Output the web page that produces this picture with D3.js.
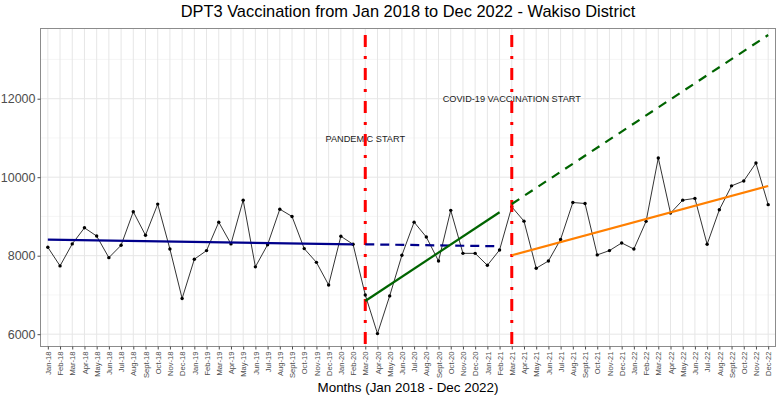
<!DOCTYPE html>
<html>
<head>
<meta charset="utf-8">
<script src="https://cdn.jsdelivr.net/npm/d3@7"></script>
<style>
  body { margin: 0; background: #fff; }
  svg { display: block; font-family: "Liberation Sans", Arial, sans-serif; }
</style>
</head>
<body>
<div id="chart"></div>
<script>
// month labels, Jan 2018 - Dec 2022
const monthNames = ["Jan", "Feb", "Mar", "Apr", "May", "Jun", "Jul", "Aug", "Sept", "Oct", "Nov", "Dec"];
const years = ["18", "19", "20", "21", "22"];
const months = [];
years.forEach(y => monthNames.forEach(m => months.push(m + "-" + y)));

// DPT3 doses per month
const doses2018 = [8215, 7740, 8300, 8710, 8500, 7950, 8265, 9120, 8520, 9315, 8170, 6910];
const doses2019 = [7910, 8130, 8855, 8300, 9415, 7715, 8280, 9185, 9000, 8180, 7830, 7255];
const doses2020 = [8495, 8290, 7000, 6015, 6975, 8010, 8855, 8475, 7865, 9155, 8060, 8060];
const doses2021 = [7755, 8145, 9245, 8880, 7680, 7865, 8415, 9355, 9330, 8020, 8130, 8325];
const doses2022 = [8170, 8875, 10490, 9085, 9415, 9460, 8290, 9170, 9780, 9905, 10360, 9300];
const doses = [].concat(doses2018, doses2019, doses2020, doses2021, doses2022);

// fitted trend segments: [start month, end month, start value, end value]
const prePandemicFit = ["Jan-18", "Feb-20", 8408, 8290];
const prePandemicProjected = ["Mar-20", "Feb-21", 8290, 8240];
const pandemicFit = ["Mar-20", "Feb-21", 6846, 9106];
const pandemicProjected = ["Mar-21", "Dec-22", 9317, 13623];
const vaccinationFit = ["Mar-21", "Dec-22", 8010, 9776];

const eventMonths = ["Mar-20", "Mar-21"];
const eventLabels = [
  { month: "Mar-20", value: 10900, text: "PANDEMIC START" },
  { month: "Mar-21", value: 11905, text: "COVID-19 VACCINATION START" },
];

const yTicks = [6000, 8000, 10000, 12000];
const yMinor = [7000, 9000, 11000, 13000];

const width = 779, height = 398;
const margin = { top: 28.5, right: 3.5, bottom: 51.5, left: 40.5 };

const svg = d3.select("#chart").append("svg")
  .attr("width", width)
  .attr("height", height);

const x = d3.scalePoint()
  .domain(months)
  .range([margin.left, width - margin.right])
  .padding(0.6);

const y = d3.scaleLinear()
  .domain([5686, 13789])
  .range([height - margin.bottom, margin.top]);

const x0 = margin.left, x1 = width - margin.right;
const y0 = height - margin.bottom, y1 = margin.top;

// grid
const grid = svg.append("g");
grid.selectAll(".minor").data(yMinor).enter().append("line")
  .attr("x1", x0).attr("x2", x1)
  .attr("y1", d => y(d)).attr("y2", d => y(d))
  .attr("stroke", "#f0f0f0").attr("stroke-width", 0.6);
grid.selectAll(".hmajor").data(yTicks).enter().append("line")
  .attr("x1", x0).attr("x2", x1)
  .attr("y1", d => y(d)).attr("y2", d => y(d))
  .attr("stroke", "#e6e6e6").attr("stroke-width", 1);
grid.selectAll(".vmajor").data(months).enter().append("line")
  .attr("x1", d => x(d)).attr("x2", d => x(d))
  .attr("y1", y0).attr("y2", y1)
  .attr("stroke", "#e6e6e6").attr("stroke-width", 1);

// monthly series
const line = d3.line()
  .x((d, i) => x(months[i]))
  .y(d => y(d));

svg.append("path")
  .datum(doses)
  .attr("d", line)
  .attr("fill", "none")
  .attr("stroke", "#000")
  .attr("stroke-width", 0.8);

svg.selectAll(".pt").data(doses).enter().append("circle")
  .attr("cx", (d, i) => x(months[i]))
  .attr("cy", d => y(d))
  .attr("r", 1.7)
  .attr("fill", "#000");

// annotations
svg.selectAll(".lbl").data(eventLabels).enter().append("text")
  .attr("x", d => x(d.month))
  .attr("y", d => y(d.value))
  .attr("text-anchor", "middle")
  .attr("font-size", 9.2)
  .attr("fill", "#1a1a1a")
  .text(d => d.text);

// event lines
svg.selectAll(".event").data(eventMonths).enter().append("line")
  .attr("x1", d => x(d)).attr("x2", d => x(d))
  .attr("y1", y1).attr("y2", y0)
  .attr("stroke", "#ff0000")
  .attr("stroke-width", 3)
  .attr("stroke-dasharray", "3,9,12,9")
  .attr("stroke-dashoffset", 5.5);

// trend segments
function segment(fit, color, dash) {
  svg.append("line")
    .attr("x1", x(fit[0])).attr("y1", y(fit[2]))
    .attr("x2", x(fit[1])).attr("y2", y(fit[3]))
    .attr("stroke", color)
    .attr("stroke-width", 2.2)
    .attr("stroke-dasharray", dash || null);
}
segment(prePandemicFit, "#00008b");
segment(prePandemicProjected, "#00008b", "9,6");
segment(pandemicFit, "#006400");
segment(pandemicProjected, "#006400", "9,7");
segment(vaccinationFit, "#ff7f00");

// panel border
svg.append("rect")
  .attr("x", x0).attr("y", y1)
  .attr("width", x1 - x0).attr("height", y0 - y1)
  .attr("fill", "none")
  .attr("stroke", "#8c8c8c")
  .attr("stroke-width", 1);

// axes
const yAxis = svg.append("g")
  .attr("transform", `translate(${x0},0)`)
  .call(d3.axisLeft(y).tickValues(yTicks).tickSize(3).tickPadding(2).tickFormat(d3.format("d")));
yAxis.select(".domain").remove();
yAxis.selectAll(".tick line").attr("stroke", "#4d4d4d");
yAxis.selectAll(".tick text")
  .attr("font-size", 12.5)
  .attr("font-family", "Liberation Sans, Arial, sans-serif")
  .attr("fill", "#4d4d4d");

const xAxis = svg.append("g")
  .attr("transform", `translate(0,${y0})`)
  .call(d3.axisBottom(x).tickSize(3));
xAxis.select(".domain").remove();
xAxis.selectAll(".tick line").attr("stroke", "#4d4d4d");
xAxis.selectAll(".tick text")
  .attr("font-size", 7.6)
  .attr("font-family", "Liberation Sans, Arial, sans-serif")
  .attr("fill", "#4d4d4d")
  .attr("transform", "rotate(-90)")
  .attr("text-anchor", "end")
  .attr("dy", "0.35em")
  .attr("x", -5)
  .attr("y", 0);

// titles
svg.append("text")
  .attr("x", (x0 + x1) / 2)
  .attr("y", 17)
  .attr("text-anchor", "middle")
  .attr("font-size", 16.4)
  .attr("fill", "#000")
  .text("DPT3 Vaccination from Jan 2018 to Dec 2022 - Wakiso District");

svg.append("text")
  .attr("x", (x0 + x1) / 2)
  .attr("y", 392)
  .attr("text-anchor", "middle")
  .attr("font-size", 13.4)
  .attr("fill", "#000")
  .text("Months (Jan 2018 - Dec 2022)");
</script>
</body>
</html>
